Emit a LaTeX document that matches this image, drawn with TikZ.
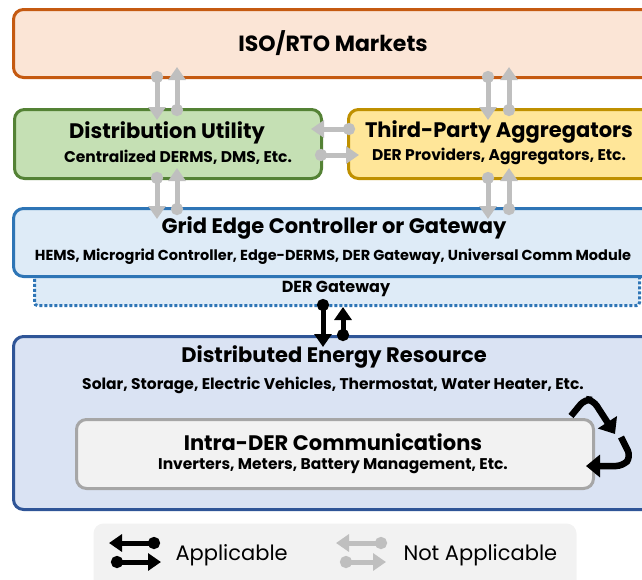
\documentclass[tikz,border=0pt]{standalone}
\usepackage{fontspec}
\setmainfont{Poppins}
\usetikzlibrary{arrows.meta}

\definecolor{isofill}{HTML}{FBE5D6}
\definecolor{isoline}{HTML}{C55A11}
\definecolor{dufill}{HTML}{C5E0B4}
\definecolor{duline}{HTML}{548235}
\definecolor{tpafill}{HTML}{FFE699}
\definecolor{tpaline}{HTML}{BF9000}
\definecolor{gecfill}{HTML}{DEEBF7}
\definecolor{gecline}{HTML}{2E75B6}
\definecolor{derfill}{HTML}{DAE3F3}
\definecolor{derline}{HTML}{2F5597}
\definecolor{intrafill}{HTML}{F2F2F2}
\definecolor{intraline}{HTML}{A6A6A6}
\definecolor{linkgray}{HTML}{BFBFBF}

\tikzset{
  box/.style={draw, line width=3pt, rounded corners=10pt, anchor=north west, inner sep=0pt},
  title/.style={font=\fontsize{21}{23}\selectfont\bfseries},
  sub/.style={font=\fontsize{15.5}{17}\selectfont\bfseries},
  link/.style={line width=5pt, {Circle[length=12pt]}-{Triangle[length=13pt,width=17pt]},
    shorten <=-8pt, shorten >=-12pt},
  on/.style={link, black},
  off/.style={link, linkgray},
  cycle arrow/.style={line width=6.5pt, -{Triangle[length=14pt,width=22pt]}, rounded corners=7pt}
}

\begin{document}
\begin{tikzpicture}[x=1pt, y=-1pt]
  \useasboundingbox (0,0) rectangle (642,579);

  % boxes
  \node[box, draw=isoline, fill=isofill, minimum width=642pt, minimum height=68pt] (iso) at (12,8) {};
  \node[box, draw=duline, fill=dufill, minimum width=307pt, minimum height=69pt] (du) at (13,108) {};
  \node[box, draw=tpaline, fill=tpafill, minimum width=305pt, minimum height=69pt] (tpa) at (347,108) {};
  \node[box, draw=gecline, fill=gecfill, dotted, rounded corners=3pt, minimum width=605pt, minimum height=36pt] (dgw) at (33,268) {};
  \node[box, draw=gecline, fill=gecfill, minimum width=644pt, minimum height=68pt] (gec) at (12,207) {};
  \node[box, draw=derline, fill=derfill, minimum width=644pt, minimum height=173pt] (der) at (12,335) {};
  \node[box, draw=intraline, fill=intrafill, minimum width=517pt, minimum height=69pt] (intra) at (75,418) {};
  \node[box, draw=none, fill=intrafill, minimum width=483pt, minimum height=70pt] (key) at (92,522) {};

  % texts
  \node[title, font=\fontsize{22}{24}\selectfont\bfseries] (iso-t) at (333,43) {ISO/RTO Markets};
  \node[title] (du-t) at (167,133) {Distribution Utility};
  \node[sub] (du-s) at (178,157) {Centralized DERMS, DMS, Etc.};
  \node[title] (tpa-t) at (499,132) {Third-Party Aggregators};
  \node[sub] (tpa-s) at (499,156) {DER Providers, Aggregators, Etc.};
  \node[title] (gec-t) at (334,228) {Grid Edge Controller or Gateway};
  \node[sub, font=\fontsize{14.5}{16}\selectfont\bfseries] (gec-s) at (333,257)
    {HEMS, Microgrid Controller, Edge-DERMS, DER Gateway, Universal Comm Module};
  \node[font=\fontsize{16}{18}\selectfont\bfseries] (dgw-t) at (336,289) {DER Gateway};
  \node[title] (der-t) at (334,357) {Distributed Energy Resource};
  \node[sub] (der-s) at (333,385) {Solar, Storage, Electric Vehicles, Thermostat, Water Heater, Etc.};
  \node[title] (intra-t) at (333,442) {Intra-DER Communications};
  \node[sub] (intra-s) at (333,466) {Inverters, Meters, Battery Management, Etc.};
  \node[font=\fontsize{21}{23}\selectfont, anchor=west] (app) at (172,555) {Applicable};
  \node[font=\fontsize{21}{23}\selectfont, anchor=west] (napp) at (400,555) {Not Applicable};

  % links between layers
  \draw[off] (157,0 |- iso.south) -- (157,0 |- du.north);
  \draw[off] (177,0 |- du.north) -- (177,0 |- iso.south);
  \draw[off] (488,0 |- iso.south) -- (488,0 |- tpa.north);
  \draw[off] (509,0 |- tpa.north) -- (509,0 |- iso.south);
  \draw[off] (tpa.west |- 0,129) -- (du.east |- 0,129);
  \draw[off] (du.east |- 0,155) -- (tpa.west |- 0,155);
  \draw[off] (157,0 |- du.south) -- (157,0 |- gec.north);
  \draw[off] (177,0 |- gec.north) -- (177,0 |- du.south);
  \draw[off] (488,0 |- tpa.south) -- (488,0 |- gec.north);
  \draw[off] (509,0 |- gec.north) -- (509,0 |- tpa.south);
  \draw[on] (323,0 |- dgw.south) -- (323,0 |- der.north);
  \draw[on, shorten <=-6pt, shorten >=0pt] (343,0 |- der.north) -- (343,0 |- dgw.south);

  % intra-DER cycle
  \draw[cycle arrow] (571,416) -- (585,399) -- (593,400) -- (615,434);
  \draw[cycle arrow] (621,437) -- (631,457) -- (623,466) -- (586,466);

  % key
  \draw[on, shorten <=0pt, shorten >=0pt] ([xshift=-12pt,yshift=12pt]app.west) -- ++(-51,0);
  \draw[on, shorten <=0pt, shorten >=0pt] ([xshift=-61pt,yshift=-7pt]app.west) -- ++(50,0);
  \draw[off, shorten <=0pt, shorten >=0pt] ([xshift=-13pt,yshift=12pt]napp.west) -- ++(-51,0);
  \draw[off, shorten <=0pt, shorten >=0pt] ([xshift=-60pt,yshift=-7pt]napp.west) -- ++(46,0);
\end{tikzpicture}
\end{document}
